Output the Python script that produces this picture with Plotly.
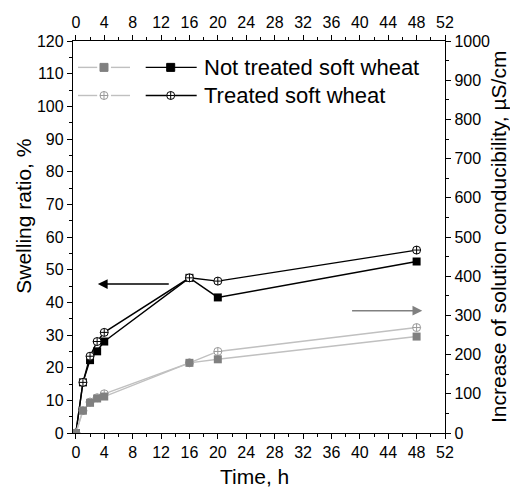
import plotly.graph_objects as go

# ---- data ----
time_h = [0, 1, 2, 3, 4, 16, 20, 48]
swell_not_treated = [0, 15.5, 22.3, 25.0, 28.0, 47.5, 41.5, 52.5]
swell_treated = [0, 15.5, 23.5, 28.0, 30.8, 47.5, 46.5, 56.0]
cond_not_treated = [0, 57, 77, 88, 93, 179, 188, 246]
cond_treated = [0, 57, 79, 90, 100, 179, 208, 269]

legend_labels = ["Not treated soft wheat", "Treated soft wheat"]

BLACK = "#000000"
GREY_M = "#808080"
GREY_L = "#c0c0c0"
GREY_C = "#9a9a9a"
FONT = "Arial, Liberation Sans, sans-serif"

XR = [-0.4, 52]

fig = go.Figure()

# swelling ratio (left axis, black)
fig.add_trace(go.Scatter(x=time_h, y=swell_not_treated, mode="lines+markers",
                         line=dict(color=BLACK, width=1.4),
                         marker=dict(symbol="square", size=8, color=BLACK),
                         xaxis="x", yaxis="y", showlegend=False))
fig.add_trace(go.Scatter(x=time_h, y=swell_treated, mode="lines+markers",
                         line=dict(color=BLACK, width=1.4),
                         marker=dict(symbol="circle-cross", size=8, color="white",
                                     line=dict(color=BLACK, width=1)),
                         xaxis="x", yaxis="y", showlegend=False))
# conductivity (right axis, grey)
fig.add_trace(go.Scatter(x=time_h, y=cond_treated, mode="lines+markers",
                         line=dict(color=GREY_L, width=1.4),
                         marker=dict(symbol="circle-cross", size=8, color="white",
                                     line=dict(color=GREY_C, width=1)),
                         xaxis="x2", yaxis="y2", showlegend=False))
fig.add_trace(go.Scatter(x=time_h, y=cond_not_treated, mode="lines+markers",
                         line=dict(color=GREY_L, width=1.4),
                         marker=dict(symbol="square", size=8, color=GREY_M),
                         xaxis="x2", yaxis="y2", showlegend=False))

# ---- custom legend on a hidden overlay axis ----
rows_y = [0.9327, 0.861]
grey_seg = [0.0134, 0.065, None, 0.102, 0.1532]
grey_mk = 0.0833
black_seg = [0.1954, 0.3325]
black_mk = 0.2626
text_x = 0.3468
syms = [("square", GREY_M, GREY_M, BLACK, BLACK),
        ("circle-cross", "white", GREY_C, "white", BLACK)]
for i, yy in enumerate(rows_y):
    sym, gfill, gline, bfill, bline = syms[i]
    fig.add_trace(go.Scatter(x=grey_seg, y=[yy, yy, None, yy, yy], mode="lines",
                             line=dict(color=GREY_L, width=1.4),
                             xaxis="x3", yaxis="y3", showlegend=False, hoverinfo="skip"))
    fig.add_trace(go.Scatter(x=[grey_mk], y=[yy], mode="markers",
                             marker=dict(symbol=sym, size=8, color=gfill,
                                         line=dict(color=gline, width=1)),
                             xaxis="x3", yaxis="y3", showlegend=False, hoverinfo="skip"))
    fig.add_trace(go.Scatter(x=black_seg, y=[yy, yy],
                             mode="lines", line=dict(color=BLACK, width=1.4),
                             xaxis="x3", yaxis="y3", showlegend=False, hoverinfo="skip"))
    fig.add_trace(go.Scatter(x=[black_mk], y=[yy], mode="markers",
                             marker=dict(symbol=sym, size=8, color=bfill,
                                         line=dict(color=bline, width=1)),
                             xaxis="x3", yaxis="y3", showlegend=False, hoverinfo="skip"))
    fig.add_annotation(x=text_x, y=yy, xref="x3", yref="y3", text=legend_labels[i],
                       showarrow=False, xanchor="left", yanchor="middle",
                       font=dict(family=FONT, size=22, color=BLACK))

# ---- arrows ----
fig.add_annotation(x=3.1, y=45.6, ax=13.3, ay=45.6, xref="x", yref="y", axref="x", ayref="y",
                   text="", showarrow=True, arrowhead=2, arrowsize=1.4, arrowwidth=1.4,
                   arrowcolor=BLACK)
fig.add_annotation(x=48.8, y=312, ax=38.7, ay=312, xref="x2", yref="y2", axref="x2", ayref="y2",
                   text="", showarrow=True, arrowhead=2, arrowsize=1.4, arrowwidth=1.4,
                   arrowcolor=GREY_M)

# ---- titles ----
fig.add_annotation(x=0.489, y=-0.112, xref="paper", yref="paper", text="Time, h",
                   xanchor="center", yanchor="middle",
                   showarrow=False, font=dict(family=FONT, size=21, color=BLACK))
fig.add_annotation(x=-0.134, y=0.552, xref="paper", yref="paper", text="Swelling ratio, %",
                   xanchor="center", yanchor="middle",
                   showarrow=False, textangle=-90, font=dict(family=FONT, size=21, color=BLACK))
fig.add_annotation(x=1.1425, y=0.50, xref="paper", yref="paper",
                   text="Increase of solution conducibility, µS/cm",
                   xanchor="center", yanchor="middle",
                   showarrow=False, textangle=-90, font=dict(family=FONT, size=21, color=BLACK))

tick_font = dict(family=FONT, size=16, color=BLACK)
xcommon = dict(range=XR, tick0=0, dtick=4, ticks="outside", ticklen=5, tickwidth=1.2,
               tickcolor=BLACK, showline=True, linecolor=BLACK, linewidth=1.4,
               showgrid=False, zeroline=False, tickfont=tick_font,
               minor=dict(dtick=2, tick0=0, ticks="outside", ticklen=3, tickcolor=BLACK,
                          tickwidth=1.2, showgrid=False))

fig.update_layout(
    width=510, height=488,
    margin=dict(l=73, r=65, t=41, b=55),
    paper_bgcolor="white", plot_bgcolor="white",
    font=dict(family=FONT, color=BLACK),
    showlegend=False,
    xaxis=dict(**xcommon, side="bottom"),
    xaxis2=dict(**xcommon, side="top", overlaying="x", anchor="y"),
    yaxis=dict(range=[0, 120], tick0=0, dtick=10, ticks="outside", ticklen=5, tickwidth=1.2,
               tickcolor=BLACK, showline=True, linecolor=BLACK, linewidth=1.4,
               showgrid=False, zeroline=False, tickfont=tick_font, side="left",
               minor=dict(dtick=5, tick0=0, ticks="outside", ticklen=3, tickcolor=BLACK,
                          tickwidth=1.2, showgrid=False)),
    yaxis2=dict(range=[0, 1000], tick0=0, dtick=100, ticks="outside", ticklen=5, tickwidth=1.2,
                tickcolor=BLACK, showline=True, linecolor=BLACK, linewidth=1.4,
                showgrid=False, zeroline=False, tickfont=tick_font, side="right",
                overlaying="y", anchor="x",
                minor=dict(dtick=50, tick0=0, ticks="outside", ticklen=3, tickcolor=BLACK,
                           tickwidth=1.2, showgrid=False)),
    xaxis3=dict(range=[0, 1], visible=False, overlaying="x", anchor="y3"),
    yaxis3=dict(range=[0, 1], visible=False, overlaying="y", anchor="x3"),
)

fig.write_html("out.html")
